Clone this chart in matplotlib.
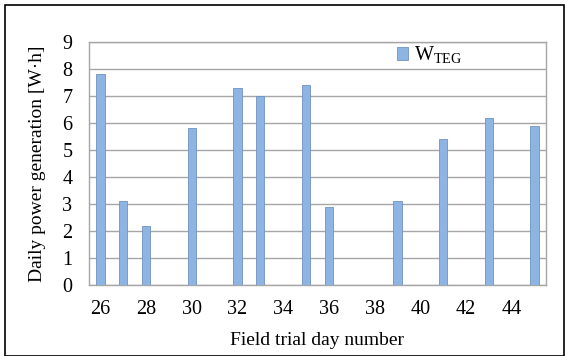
import numpy as np
import matplotlib
matplotlib.use("Agg")
from matplotlib import pyplot as plt
from matplotlib.patches import Rectangle

# day numbers shown on the category axis and the measured energy per day
days = list(range(26, 46))
w_teg = [7.8, 3.1, 2.2, 0, 5.8, 0, 7.3, 7.0, 0, 7.4,
         2.9, 0, 0, 3.1, 0, 5.4, 0, 6.2, 0, 5.9]
tick_days = [26, 28, 30, 32, 34, 36, 38, 40, 42, 44]

plt.rcParams['font.family'] = ['Liberation Serif', 'DejaVu Serif']

fig = plt.figure(figsize=(5.69, 3.56), dpi=100)
ax = fig.add_axes([89/569, 1-285/356, (546-89)/569, (285-42)/356])

x = np.arange(len(days))
vals = np.array(w_teg)
mask = vals > 0
ax.bar(x[mask], vals[mask], width=0.36, color='#8EB4E3',
       edgecolor='#6F93C0', linewidth=0.6, label='W$_{\\mathregular{TEG}}$', zorder=3)

ax.set_xlim(-0.5, len(days)-0.5)
ax.set_ylim(0, 9)
ax.set_yticks(range(10))
ax.set_xticks([days.index(d) for d in tick_days])
ax.set_xticklabels([str(d) for d in tick_days])
ax.tick_params(axis='both', length=0, labelsize=14.5)
ax.tick_params(axis='x', pad=11)
ax.tick_params(axis='y', pad=12)
ax.yaxis.grid(True, color='#A6A6A6', linewidth=1.0, zorder=0)
for s in ax.spines.values():
    s.set_color('#A6A6A6')
    s.set_linewidth(1.0)

ax.set_ylabel('Daily power generation [W·h]', fontsize=14, labelpad=12)
ax.set_xlabel('Field trial day number', fontsize=14, labelpad=9)

ax.legend(loc='upper left', bbox_to_anchor=(0.635, 1.065), frameon=False,
          fontsize=14.5, handlelength=0.55, handleheight=0.6, handletextpad=0.3)

# outer frame around the whole chart
fig.patches.append(Rectangle((5/569, 0), 559/569, 1-5/356, transform=fig.transFigure,
                             fill=False, edgecolor='black', linewidth=1.2))

fig.savefig('out.png', dpi=100)
